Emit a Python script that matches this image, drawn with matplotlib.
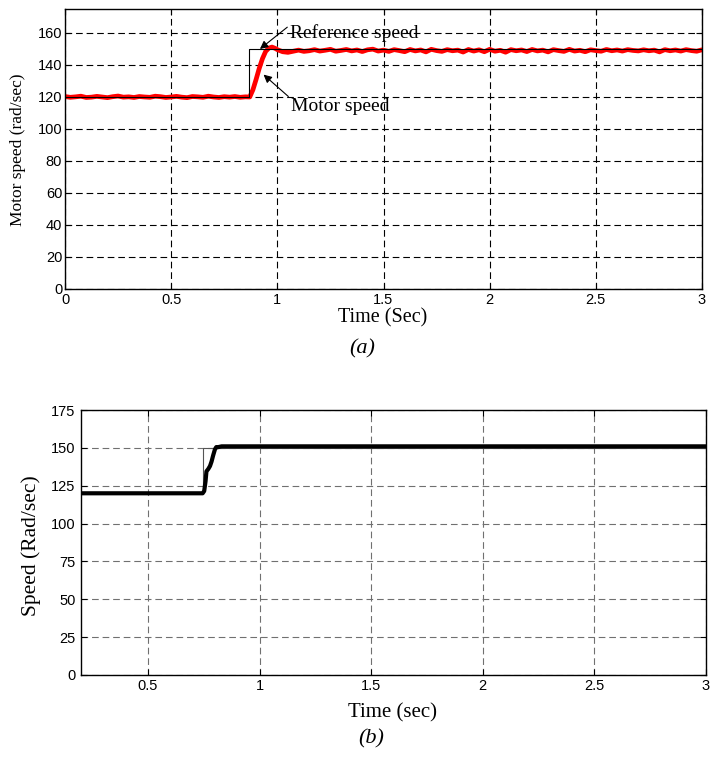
import numpy as np
import matplotlib
matplotlib.use("Agg")
import matplotlib.pyplot as plt

# ---- panel (a): motor speed vs reference, ripple
pre_speed = [120.3, 119.8, 120.1, 120.5, 119.7, 119.9, 120.4, 120.0, 119.6, 120.2,
             120.6, 119.9, 120.1, 119.7, 120.3, 120.0, 119.8, 120.5, 120.2, 119.7,
             120.0, 120.4, 119.9, 119.6, 120.3, 120.1, 119.8, 120.5, 120.0, 119.7,
             120.2, 119.9, 120.3, 119.8, 120.1]
rise_time = [0.87, 0.885, 0.9, 0.915, 0.93, 0.945, 0.96, 0.975, 0.99]
rise_speed = [120.0, 124.5, 131.0, 138.0, 144.0, 148.5, 150.6, 151.2, 150.4]
post_speed = [149.6, 148.3, 147.9, 148.6, 149.3, 148.5, 148.9, 149.6, 148.7, 149.2,
              149.8, 148.6, 149.1, 149.7, 148.8, 149.4, 148.4, 149.5, 149.9, 148.7,
              149.3, 148.5, 149.6, 149.0, 148.3, 149.7, 148.8, 149.4, 148.2, 149.8,
              149.0, 148.5, 149.6, 148.9, 149.3, 148.1, 149.7, 148.7, 149.5, 148.3,
              149.8, 148.6, 149.2, 148.0, 149.6, 148.9, 149.4, 148.4, 149.7, 148.8,
              149.3, 148.2, 149.6, 149.0, 148.5, 149.8, 148.7, 149.2, 148.3, 149.5,
              149.0, 148.6, 149.7, 148.9, 149.4, 148.7, 149.6, 149.1, 148.8, 149.5,
              148.9, 149.3, 148.2, 149.6, 148.9, 149.4, 148.7, 149.6, 149.0, 148.6,
              149.5]
ref_a_time = [0.0, 0.865, 0.865, 3.0]
ref_a_speed = [120, 120, 150, 150]

# ---- panel (b)
motor_b_time = [0.2, 0.745, 0.752, 0.758, 0.762, 0.77, 0.778, 0.785, 0.792, 0.8,
                0.806, 0.815, 0.83, 3.0]
motor_b_speed = [120, 120, 121.5, 128, 134.5, 136, 138, 141, 145, 149,
                 150.5, 150.5, 151, 151]
ref_b_time = [0.2, 0.748, 0.748, 3.0]
ref_b_speed = [120, 120, 150, 150]

t_a = np.concatenate([np.linspace(0.0, 0.85, len(pre_speed)), rise_time,
                      np.linspace(1.0, 3.0, len(post_speed))])
w_a = np.concatenate([pre_speed, rise_speed, post_speed])

W, H = 710, 758
fig = plt.figure(figsize=(W / 100, H / 100), dpi=100)

serif = "Liberation Serif"
sans = "Liberation Sans"


def style_axes(ax, grid_color, dashes):
    ax.tick_params(direction="in", top=True, right=True, length=4, width=0.8,
                   labelsize=10.5, pad=3)
    for lab in ax.get_xticklabels() + ax.get_yticklabels():
        lab.set_family(sans)
    for s in ax.spines.values():
        s.set_linewidth(1.0)
    ax.grid(True, color=grid_color, linewidth=0.8, linestyle=(0, dashes))
    ax.set_axisbelow(True)


# panel (a)
ax1 = fig.add_axes([65 / W, 1 - 289 / H, 637 / W, 280 / H])
ax1.plot(t_a, w_a, color="#ff0000", linewidth=3.4, solid_capstyle="round")
ax1.plot(ref_a_time, ref_a_speed, color="black", linewidth=0.8)
ax1.set_xlim(0, 3)
ax1.set_ylim(0, 175)
ax1.set_xticks([0, 0.5, 1, 1.5, 2, 2.5, 3])
ax1.set_xticklabels(["0", "0.5", "1", "1.5", "2", "2.5", "3"])
ax1.set_yticks(np.arange(0, 161, 20))
style_axes(ax1, "black", (6, 3.5))
ax1.tick_params(axis="y", pad=2)

arrow = dict(arrowstyle="-|>", color="black", lw=0.8, mutation_scale=12)
ax1.annotate("Reference speed", xy=(0.918, 150), xytext=(1.06, 160),
             fontsize=14, family=serif, va="center", ha="left",
             arrowprops=dict(arrow, shrinkA=0, shrinkB=0, relpos=(0, 0.95)))
ax1.annotate("Motor speed", xy=(0.935, 134), xytext=(1.065, 114),
             fontsize=14, family=serif, va="center", ha="left",
             arrowprops=dict(arrow, shrinkA=0, shrinkB=0, relpos=(0, 0.95)))

fig.text(18 / W, 1 - 150 / H, "Motor speed (rad/sec)", rotation=90,
         fontsize=12.5, family=serif, ha="center", va="center")
fig.text(383 / W, 1 - 318 / H, "Time (Sec)", fontsize=14.5, family=serif,
         ha="center", va="center")
fig.text(362 / W, 1 - 349 / H, "(a)", fontsize=16, family=serif,
         style="italic", ha="center", va="center")

# panel (b)
ax2 = fig.add_axes([81 / W, 1 - 675 / H, 625 / W, 265 / H])
ax2.plot(ref_b_time, ref_b_speed, color="#555555", linewidth=0.8)
ax2.plot(motor_b_time, motor_b_speed, color="black", linewidth=3.0,
         solid_joinstyle="round")
ax2.set_xlim(0.2, 3)
ax2.set_ylim(0, 175)
ax2.set_xticks([0.5, 1, 1.5, 2, 2.5, 3])
ax2.set_xticklabels(["0.5", "1", "1.5", "2", "2.5", "3"])
ax2.set_yticks(np.arange(0, 176, 25))
style_axes(ax2, "#707070", (6, 3.5))
ax2.tick_params(axis="y", pad=4)

fig.text(31 / W, 1 - 546 / H, "Speed (Rad/sec)", rotation=90,
         fontsize=15.5, family=serif, ha="center", va="center")
fig.text(392 / W, 1 - 713 / H, "Time (sec)", fontsize=15, family=serif,
         ha="center", va="center")
fig.text(371 / W, 1 - 739 / H, "(b)", fontsize=16, family=serif,
         style="italic", ha="center", va="center")

fig.savefig("out.png", dpi=100)
